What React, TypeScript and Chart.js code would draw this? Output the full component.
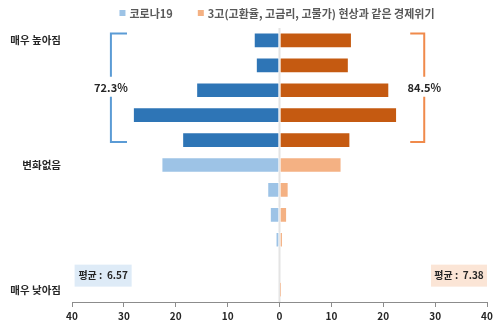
import React, { useEffect, useRef } from "react";
import { Chart, registerables } from "chart.js";

Chart.register(...registerables);

const levels = ["10", "9", "8", "7", "6", "5", "4", "3", "2", "1", "0"];
const levelTickLabels = ["매우 높아짐", "", "", "", "", "변화없음", "", "", "", "", "매우 낮아짐"];
const seriesNames = ["코로나19", "3고(고환율, 고금리, 고물가) 현상과 같은 경제위기"];
const covidValues = [4.9, 4.5, 16.0, 28.2, 18.7, 22.7, 2.3, 1.8, 0.7, 0, 0];
const crisisValues = [13.9, 13.3, 21.1, 22.6, 13.6, 11.9, 1.7, 1.4, 0.6, 0, 0.3];
const highShares = ["72.3%", "84.5%"];
const averages = ["6.57", "7.38"];
const xTicks = [-40, -30, -20, -10, 0, 10, 20, 30, 40];

const BLUE_DARK = "#2E75B6";
const BLUE_LIGHT = "#9DC3E6";
const ORANGE_DARK = "#C55A11";
const ORANGE_LIGHT = "#F4B183";
const FONT = "'Noto Sans CJK KR', 'Noto Sans', sans-serif";

const overlay = {
  id: "overlay",
  beforeDatasetsDraw(chart: any) {
    const { ctx, chartArea, scales } = chart;
    const x0 = scales.x.getPixelForValue(0);
    ctx.save();
    ctx.strokeStyle = "#E4E4E4";
    ctx.lineWidth = 2;
    ctx.beginPath();
    ctx.moveTo(x0, chartArea.top);
    ctx.lineTo(x0, chartArea.bottom);
    ctx.stroke();
    ctx.restore();
  },
  afterDraw(chart: any) {
    const { ctx, scales } = chart;
    const x = scales.x;
    const y = scales.y;
    ctx.save();
    // legend
    ctx.font = `bold 11px ${FONT}`;
    ctx.textBaseline = "middle";
    const colors = [BLUE_LIGHT, ORANGE_LIGHT];
    const box = 6;
    const gapBox = 4;
    const gapItem = 25;
    const widths = seriesNames.map((n) => ctx.measureText(n).width);
    const total = widths.reduce((a, w) => a + w + box + gapBox, 0) + gapItem;
    let lx = 277 - total / 2;
    const ly = 13;
    seriesNames.forEach((n, i) => {
      ctx.fillStyle = colors[i];
      ctx.fillRect(lx, ly - box / 2, box, box);
      lx += box + gapBox;
      ctx.fillStyle = "#595959";
      ctx.textAlign = "left";
      ctx.fillText(n, lx, ly + 0.5);
      lx += widths[i] + gapItem;
    });

    // brackets
    const top = y.getPixelForValue(0) - 7;
    const bottom = y.getPixelForValue(4) + 2;
    const mid = (top + bottom) / 2;
    const drawBracket = (xv: number, xe: number, color: string, label: string) => {
      const bx = x.getPixelForValue(xv);
      const ex = x.getPixelForValue(xe);
      ctx.strokeStyle = color;
      ctx.lineWidth = 2;
      ctx.beginPath();
      ctx.moveTo(ex, top);
      ctx.lineTo(bx, top);
      ctx.lineTo(bx, mid - 11);
      ctx.moveTo(bx, mid + 9);
      ctx.lineTo(bx, bottom);
      ctx.lineTo(ex, bottom);
      ctx.stroke();
      ctx.fillStyle = "#262626";
      ctx.font = `bold 11px ${FONT}`;
      ctx.textAlign = "center";
      ctx.fillText(label, bx, mid);
    };
    drawBracket(-32.5, -29.4, "#5B9BD5", highShares[0]);
    drawBracket(27.9, 25.2, "#F08A4B", highShares[1]);

    // average boxes
    const by = y.getPixelForValue(9);
    const bh = 22;
    const drawBox = (x1: number, x2: number, bg: string, label: string) => {
      const px1 = x.getPixelForValue(x1);
      const px2 = x.getPixelForValue(x2);
      ctx.fillStyle = bg;
      ctx.fillRect(px1, by, px2 - px1, bh);
      ctx.fillStyle = "#262626";
      ctx.font = `bold 10px ${FONT}`;
      ctx.textAlign = "center";
      ctx.fillText(label, (px1 + px2) / 2, by + bh / 2);
    };
    drawBox(-39.5, -28.5, "#DEEBF7", `평균 :  ${averages[0]}`);
    drawBox(29.2, 40, "#FBE5D6", `평균 :  ${averages[1]}`);
    ctx.restore();
  },
};

export default function App() {
  const ref = useRef<HTMLCanvasElement>(null);
  useEffect(() => {
    document.body.style.margin = "0";
    const covidColors = covidValues.map((_, i) => (i < 5 ? BLUE_DARK : BLUE_LIGHT));
    const crisisColors = crisisValues.map((_, i) => (i < 5 ? ORANGE_DARK : ORANGE_LIGHT));
    const chart = new Chart(ref.current!, {
      type: "bar",
      data: {
        labels: levels,
        datasets: [
          {
            label: seriesNames[0],
            data: covidValues.map((v) => -v),
            backgroundColor: covidColors,
            borderColor: "rgba(255,255,255,0.5)",
            borderWidth: 1,
            borderSkipped: false,
            barThickness: 15,
          },
          {
            label: seriesNames[1],
            data: crisisValues,
            backgroundColor: crisisColors,
            borderColor: "rgba(255,255,255,0.5)",
            borderWidth: 1,
            borderSkipped: false,
            barThickness: 15,
          },
        ],
      },
      options: {
        indexAxis: "y",
        animation: false,
        responsive: false,
        layout: { padding: { left: 0, right: 13, top: 28, bottom: 0 } },
        plugins: { legend: { display: false }, tooltip: { enabled: false } },
        scales: {
          x: {
            stacked: true,
            min: -40,
            max: 40,
            afterBuildTicks: (s: any) => {
              s.ticks = xTicks.map((v) => ({ value: v }));
            },
            afterFit: (s: any) => {
              s.height = 25;
            },
            ticks: {
              callback: (v: any) => String(Math.abs(Number(v))),
              color: "#262626",
              font: { family: FONT, size: 10, weight: "bold" },
              padding: 3,
              maxRotation: 0,
            },
            grid: { drawOnChartArea: false, tickLength: 5, color: "#8C8C8C" },
            border: { color: "#8C8C8C", width: 1 },
          },
          y: {
            stacked: true,
            afterFit: (s: any) => {
              s.width = 72;
            },
            ticks: {
              autoSkip: false,
              callback: (_: any, i: number) => levelTickLabels[i],
              color: "#262626",
              font: { family: FONT, size: 10.5, weight: "bold" },
              padding: 11,
            },
            grid: { display: false, drawTicks: false },
            border: { display: false },
          },
        },
      },
      plugins: [overlay],
    });
    return () => chart.destroy();
  }, []);
  return <canvas ref={ref} width={500} height={327} style={{ display: "block" }} />;
}
